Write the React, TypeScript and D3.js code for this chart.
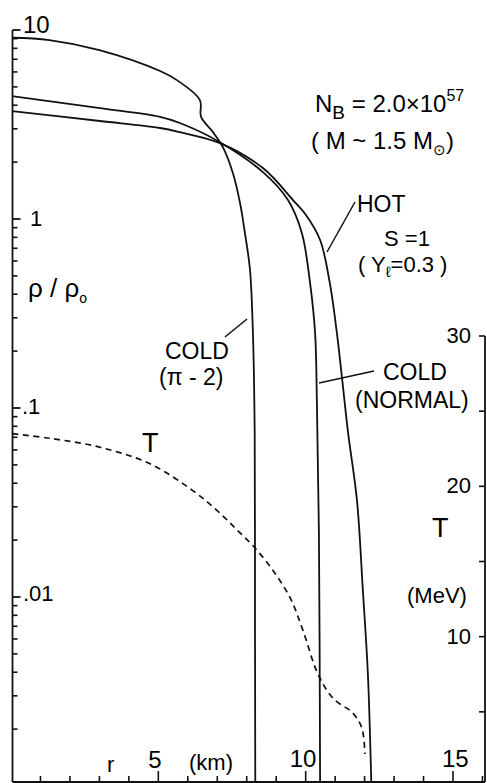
import React from "react";
import * as d3 from "d3";

// r (km) and rho/rho0 for each model
const coldPi2R = [0, 1.3, 3.0, 5.06, 5.63, 6.41, 6.45, 6.85, 7.19, 7.53, 7.77, 7.94, 8.11, 8.21, 8.27, 8.28, 8.29];
const coldPi2Rho = [9.1, 8.85, 7.83, 6.07, 5.43, 4.26, 3.47, 2.89, 2.4, 1.75, 1.22, 0.84, 0.54, 0.25, 0.074, 0.0078, 0.001];

const coldNormR = [0, 3.02, 5.06, 5.73, 7.09, 8.55, 9.4, 9.87, 10.15, 10.32, 10.38, 10.45, 10.49];
const coldNormRho = [4.48, 3.86, 3.47, 3.22, 2.55, 1.77, 1.26, 0.843, 0.458, 0.249, 0.11, 0.0218, 0.001];

const hotR = [0, 3.02, 5.06, 5.73, 7.09, 8.55, 9.57, 10.01, 10.49, 10.82, 11.06, 11.23, 11.44, 11.74, 11.94, 12.11, 12.23];
const hotRho = [3.73, 3.3, 3.03, 2.88, 2.52, 1.86, 1.26, 1.05, 0.774, 0.458, 0.249, 0.146, 0.0738, 0.0326, 0.0109, 0.00396, 0.001];

// temperature (MeV) of the hot model
const tempR = [0.05, 1.3, 3.02, 4.72, 6.18, 6.99, 7.67, 8.28, 8.89, 9.47, 9.91, 10.42, 10.93, 11.61, 11.91, 12.01];
const tempT = [23.5, 23.2, 22.6, 21.5, 19.7, 18.4, 17.1, 15.9, 14.4, 12.6, 10.4, 7.5, 5.9, 4.9, 3.9, 2.2];

const rhoMajorTicks = [10, 1, 0.1, 0.01];
const rhoMajorLabels = ["10", "1", ".1", ".01"];
const rTicks = [1, 2, 3, 4, 5, 6, 7, 8, 9, 10, 11, 12, 13, 14, 15, 16];
const rMajorTicks = [5, 10, 15];
const tTicks = [5, 10, 15, 20, 25, 30];
const tLabels = [10, 20, 30];

const W = 487;
const H = 783;
const FONT = "'Liberation Sans', Arial, sans-serif";

export default function App() {
  const x = d3.scaleLinear().domain([0, 15]).range([11, 453]);
  const y = d3.scaleLog().domain([0.01, 10]).range([597, 30]);
  const t = d3.scaleLinear().domain([0, 30]).range([787, 336]);

  const axisX = 12.5;
  const bottomY = 782;
  const rightX = 485;

  const rhoLine = d3
    .line<[number, number]>()
    .x((d) => x(d[0]))
    .y((d) => y(d[1]))
    .curve(d3.curveCatmullRom.alpha(0.5));
  const tLine = d3
    .line<[number, number]>()
    .x((d) => x(d[0]))
    .y((d) => t(d[1]))
    .curve(d3.curveCatmullRom.alpha(0.5));

  const zip = (a: number[], b: number[]) => a.map((v, i) => [v, b[i]] as [number, number]);

  const minorRho: number[] = [];
  for (let e = -3; e <= 0; e++) {
    for (let k = 2; k <= 9; k++) {
      const v = k * Math.pow(10, e);
      if (y(v) <= bottomY && y(v) >= 30) minorRho.push(v);
    }
  }

  const stroke = "#111";

  return (
    <svg
      width={W}
      height={H}
      style={{ position: "absolute", left: 0, top: 0, background: "#fff" }}
      fontFamily={FONT}
    >
      <defs>
        <clipPath id="plot">
          <rect x={axisX} y={20} width={rightX - axisX} height={bottomY - 20} />
        </clipPath>
      </defs>
      <rect x={0} y={0} width={W} height={H} fill="#fff" />

      {/* left axis */}
      <line x1={axisX} y1={y(10)} x2={axisX} y2={bottomY} stroke={stroke} strokeWidth={1.8} />
      {rhoMajorTicks.map((v) => (
        <line key={"M" + v} x1={axisX} x2={axisX + 8} y1={y(v)} y2={y(v)} stroke={stroke} strokeWidth={1.8} />
      ))}
      {minorRho.map((v) => (
        <line key={"m" + v} x1={axisX} x2={axisX + 5} y1={y(v)} y2={y(v)} stroke={stroke} strokeWidth={1.6} />
      ))}
      <text x={23} y={33} fontSize={24}>{rhoMajorLabels[0]}</text>
      <text x={30} y={226} fontSize={22}>{rhoMajorLabels[1]}</text>
      <text x={22} y={414} fontSize={22}>{rhoMajorLabels[2]}</text>
      <text x={23} y={601} fontSize={22}>{rhoMajorLabels[3]}</text>

      {/* bottom axis */}
      <line x1={axisX} y1={bottomY} x2={rightX} y2={bottomY} stroke={stroke} strokeWidth={1.8} />
      {rTicks.map((v) => {
        const major = rMajorTicks.includes(v);
        return (
          <line
            key={"r" + v}
            x1={x(v)}
            x2={x(v)}
            y1={bottomY}
            y2={bottomY - (major ? 11 : 6)}
            stroke={stroke}
            strokeWidth={1.6}
          />
        );
      })}
      <text x={107} y={772} fontSize={22}>r</text>
      <text x={x(5) - 10} y={768} fontSize={24}>5</text>
      <text x={189} y={770} fontSize={22}>(km)</text>
      <text x={x(10) - 16} y={767} fontSize={24}>10</text>
      <text x={x(15) - 11} y={767} fontSize={24}>15</text>

      {/* right axis */}
      <line x1={rightX} y1={t(30)} x2={rightX} y2={bottomY} stroke={stroke} strokeWidth={1.8} />
      {tTicks.map((v) => (
        <line key={"t" + v} x1={rightX} x2={rightX - 6} y1={t(v)} y2={t(v)} stroke={stroke} strokeWidth={1.6} />
      ))}
      {tLabels.map((v) => (
        <text key={"tl" + v} x={471} y={t(v) + 7} fontSize={22} textAnchor="end">
          {v}
        </text>
      ))}
      <text x={432} y={537} fontSize={27}>T</text>
      <text x={407} y={603} fontSize={22}>(MeV)</text>

      {/* curves */}
      <g clipPath="url(#plot)" fill="none" stroke={stroke} strokeWidth={1.8}>
        <path d={rhoLine(zip(coldPi2R, coldPi2Rho)) || ""} />
        <path d={rhoLine(zip(coldNormR, coldNormRho)) || ""} />
        <path d={rhoLine(zip(hotR, hotRho)) || ""} />
        <path d={tLine(zip(tempR, tempT)) || ""} strokeDasharray="6 4.5" strokeWidth={1.7} />
      </g>

      {/* leader lines */}
      <g stroke={stroke} strokeWidth={1.5}>
        <line x1={225} y1={337} x2={247} y2={319} />
        <line x1={319} y1={383} x2={374} y2={371} />
        <line x1={327} y1={252} x2={355} y2={202} />
      </g>

      {/* annotations */}
      <text x={28} y={297} fontSize={26}>
        ρ / ρ<tspan fontSize={14} dy={6}>o</tspan>
      </text>
      <text x={142} y={452} fontSize={27}>T</text>

      <text x={165} y={359} fontSize={23}>COLD</text>
      <text x={159} y={385} fontSize={23}>(π - 2)</text>

      <text x={383} y={380} fontSize={23}>COLD</text>
      <text x={355} y={408} fontSize={23}>(NORMAL)</text>

      <text x={357} y={212} fontSize={23}>HOT</text>
      <text x={384} y={246} fontSize={22}>S =1</text>
      <text x={358} y={272} fontSize={22}>
        ( Y<tspan fontSize={15} dy={5}>ℓ</tspan>
        <tspan dy={-5}>=0.3 )</tspan>
      </text>

      <text x={315} y={112} fontSize={24}>
        N<tspan fontSize={19} dy={7}>B</tspan>
        <tspan dy={-7}> = 2.0×10</tspan>
        <tspan fontSize={16} dy={-11}>57</tspan>
      </text>
      <text x={311} y={149} fontSize={24}>
        ( M ~ 1.5 M<tspan fontSize={15} dy={6}>⊙</tspan>
        <tspan dy={-6}>)</tspan>
      </text>
    </svg>
  );
}
